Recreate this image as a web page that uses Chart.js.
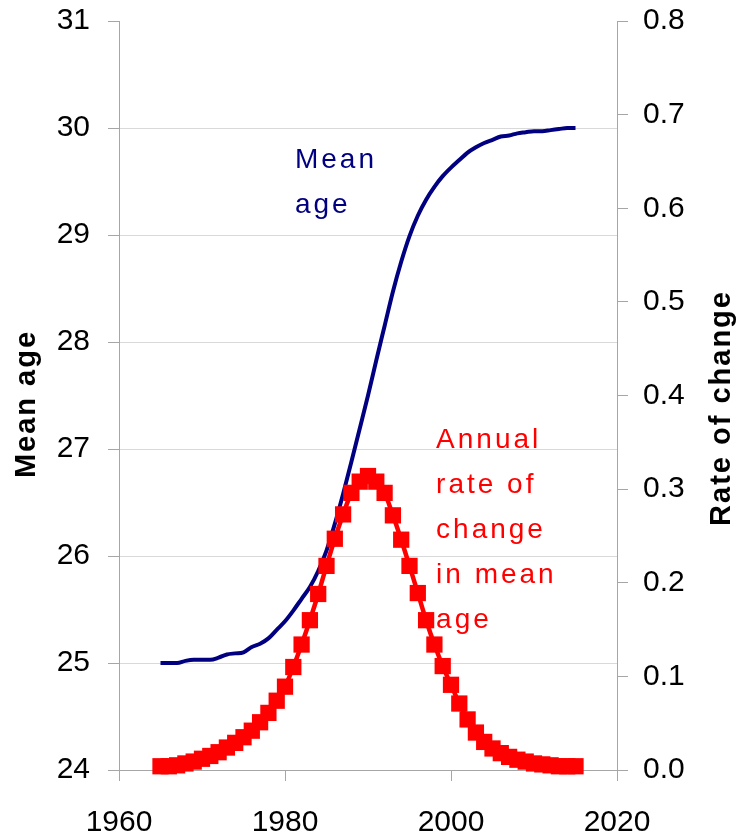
<!DOCTYPE html>
<html>
<head>
<meta charset="utf-8">
<script src="https://cdn.jsdelivr.net/npm/chart.js@4/dist/chart.umd.min.js"></script>
<style>
  html, body { margin: 0; padding: 0; background: #fff; }
  #chart { display: block; }
</style>
</head>
<body>
<canvas id="chart" width="740" height="839"></canvas>
<script>
// years 1965..2015, one value per year
const years = [
  1965, 1966, 1967, 1968, 1969, 1970, 1971, 1972, 1973, 1974,
  1975, 1976, 1977, 1978, 1979, 1980, 1981, 1982, 1983, 1984,
  1985, 1986, 1987, 1988, 1989, 1990, 1991, 1992, 1993, 1994,
  1995, 1996, 1997, 1998, 1999, 2000, 2001, 2002, 2003, 2004,
  2005, 2006, 2007, 2008, 2009, 2010, 2011, 2012, 2013, 2014, 2015
];

const meanAge = [
  25.00, 25.00, 25.00, 25.02, 25.03, 25.03, 25.03, 25.05, 25.08, 25.09,
  25.10, 25.15, 25.18, 25.23, 25.31, 25.39, 25.49, 25.60, 25.71, 25.86,
  26.05, 26.30, 26.58, 26.88, 27.19, 27.50, 27.83, 28.15, 28.47, 28.75,
  28.99, 29.18, 29.33, 29.45, 29.55, 29.63, 29.70, 29.77, 29.82, 29.86,
  29.89, 29.92, 29.93, 29.95, 29.96, 29.97, 29.97, 29.98, 29.99, 30.00, 30.00
];

const rateOfChange = [
  0.004, 0.004, 0.005, 0.007, 0.009, 0.012, 0.015, 0.019, 0.024, 0.029,
  0.035, 0.042, 0.051, 0.061, 0.074, 0.089, 0.110, 0.134, 0.160, 0.188,
  0.218, 0.247, 0.273, 0.296, 0.308, 0.314, 0.308, 0.296, 0.272, 0.246,
  0.218, 0.189, 0.160, 0.134, 0.111, 0.091, 0.071, 0.054, 0.040, 0.030,
  0.023, 0.018, 0.014, 0.011, 0.009, 0.007, 0.006, 0.005, 0.004, 0.004, 0.004
];

const xTicks = [1960, 1980, 2000, 2020];
const leftTicks = [24, 25, 26, 27, 28, 29, 30, 31];
const rightTicks = [0.0, 0.1, 0.2, 0.3, 0.4, 0.5, 0.6, 0.7, 0.8];

const colors = {
  navy: '#000080',
  red: '#ff0000',
  axis: '#a6a6a6',
  grid: '#d9d9d9',
  text: '#000000'
};

const tickFont = { family: '"Liberation Sans", Arial, sans-serif', size: 30 };

// text boxes placed in data space: x in years, y on the named axis
const notes = [
  { x: 1981.2, y: 29.63, axis: 'yAge', color: colors.navy, lines: ['Mean', 'age'] },
  { x: 1998.2, y: 0.344, axis: 'yRate', color: colors.red, lines: ['Annual', 'rate of', 'change', 'in mean', 'age'] }
];

const axisTitles = [
  { text: 'Mean age', x: 27, y: 404 },
  { text: 'Rate of change', x: 722, y: 408 }
];

function toPoints(values) {
  return values.map((v, i) => ({ x: years[i], y: v }));
}

// keep the plot box where the reference has it, labels may hang over
function fixVertical(width) {
  return scale => {
    scale.width = width;
    scale.paddingTop = 0;
    scale.paddingBottom = 0;
  };
}

const textPlugin = {
  id: 'textBoxes',
  afterDraw(chart) {
    const ctx = chart.ctx;
    const xScale = chart.scales.x;

    ctx.save();
    ctx.textAlign = 'left';
    ctx.textBaseline = 'alphabetic';
    ctx.font = '28px "Liberation Sans", Arial, sans-serif';
    ctx.letterSpacing = '3px';
    notes.forEach(note => {
      const px = xScale.getPixelForValue(note.x);
      const py = chart.scales[note.axis].getPixelForValue(note.y);
      ctx.fillStyle = note.color;
      note.lines.forEach((line, i) => {
        ctx.fillText(line, px, py + i * 45);
      });
    });
    ctx.restore();

    ctx.save();
    ctx.font = 'bold 29px "Liberation Sans", Arial, sans-serif';
    ctx.letterSpacing = '2px';
    ctx.fillStyle = colors.text;
    ctx.textAlign = 'center';
    ctx.textBaseline = 'middle';
    axisTitles.forEach(t => {
      ctx.save();
      ctx.translate(t.x, t.y);
      ctx.rotate(-Math.PI / 2);
      ctx.fillText(t.text, 0, 0);
      ctx.restore();
    });
    ctx.restore();
  }
};

new Chart(document.getElementById('chart'), {
  type: 'line',
  data: {
    datasets: [
      {
        label: 'Annual rate of change in mean age',
        data: toPoints(rateOfChange),
        yAxisID: 'yRate',
        order: 0,
        borderColor: colors.red,
        backgroundColor: colors.red,
        borderWidth: 4.5,
        cubicInterpolationMode: 'monotone',
        pointStyle: 'rect',
        pointRadius: 11.5,
        pointBorderWidth: 0,
        pointHoverRadius: 11.5,
        clip: false
      },
      {
        label: 'Mean age',
        data: toPoints(meanAge),
        yAxisID: 'yAge',
        order: 1,
        borderColor: colors.navy,
        backgroundColor: colors.navy,
        borderWidth: 4,
        cubicInterpolationMode: 'monotone',
        pointRadius: 0,
        clip: false
      }
    ]
  },
  options: {
    responsive: false,
    animation: false,
    layout: { padding: { top: 21, left: 0, right: 0, bottom: 0 } },
    plugins: {
      legend: { display: false },
      tooltip: { enabled: false }
    },
    scales: {
      x: {
        type: 'linear',
        position: 'bottom',
        min: xTicks[0],
        max: xTicks[xTicks.length - 1],
        afterBuildTicks: scale => { scale.ticks = xTicks.map(v => ({ value: v })); },
        afterFit: scale => { scale.height = 69; },
        border: { color: colors.axis, width: 1 },
        grid: { drawOnChartArea: false, drawTicks: true, tickLength: 11, tickColor: colors.axis },
        ticks: {
          color: colors.text,
          font: tickFont,
          padding: 24,
          maxRotation: 0,
          autoSkip: false,
          callback: v => String(v)
        }
      },
      yAge: {
        type: 'linear',
        position: 'left',
        min: leftTicks[0],
        max: leftTicks[leftTicks.length - 1],
        afterBuildTicks: scale => { scale.ticks = leftTicks.map(v => ({ value: v })); },
        afterFit: fixVertical(119),
        border: { color: colors.axis, width: 1 },
        grid: {
          color: c => (c.tick && c.tick.value === 31 ? 'rgba(0,0,0,0)' : colors.grid),
          tickColor: colors.axis,
          tickLength: 11,
          lineWidth: 1
        },
        ticks: { color: colors.text, font: tickFont, padding: 18, autoSkip: false }
      },
      yRate: {
        type: 'linear',
        position: 'right',
        min: rightTicks[0],
        max: rightTicks[rightTicks.length - 1],
        afterBuildTicks: scale => { scale.ticks = rightTicks.map(v => ({ value: v })); },
        afterFit: fixVertical(123),
        border: { color: colors.axis, width: 1 },
        grid: { drawOnChartArea: false, tickColor: colors.axis, tickLength: 11 },
        ticks: {
          color: colors.text,
          font: tickFont,
          padding: 15,
          autoSkip: false,
          callback: v => Number(v).toFixed(1)
        }
      }
    }
  },
  plugins: [textPlugin]
});
</script>
</body>
</html>
